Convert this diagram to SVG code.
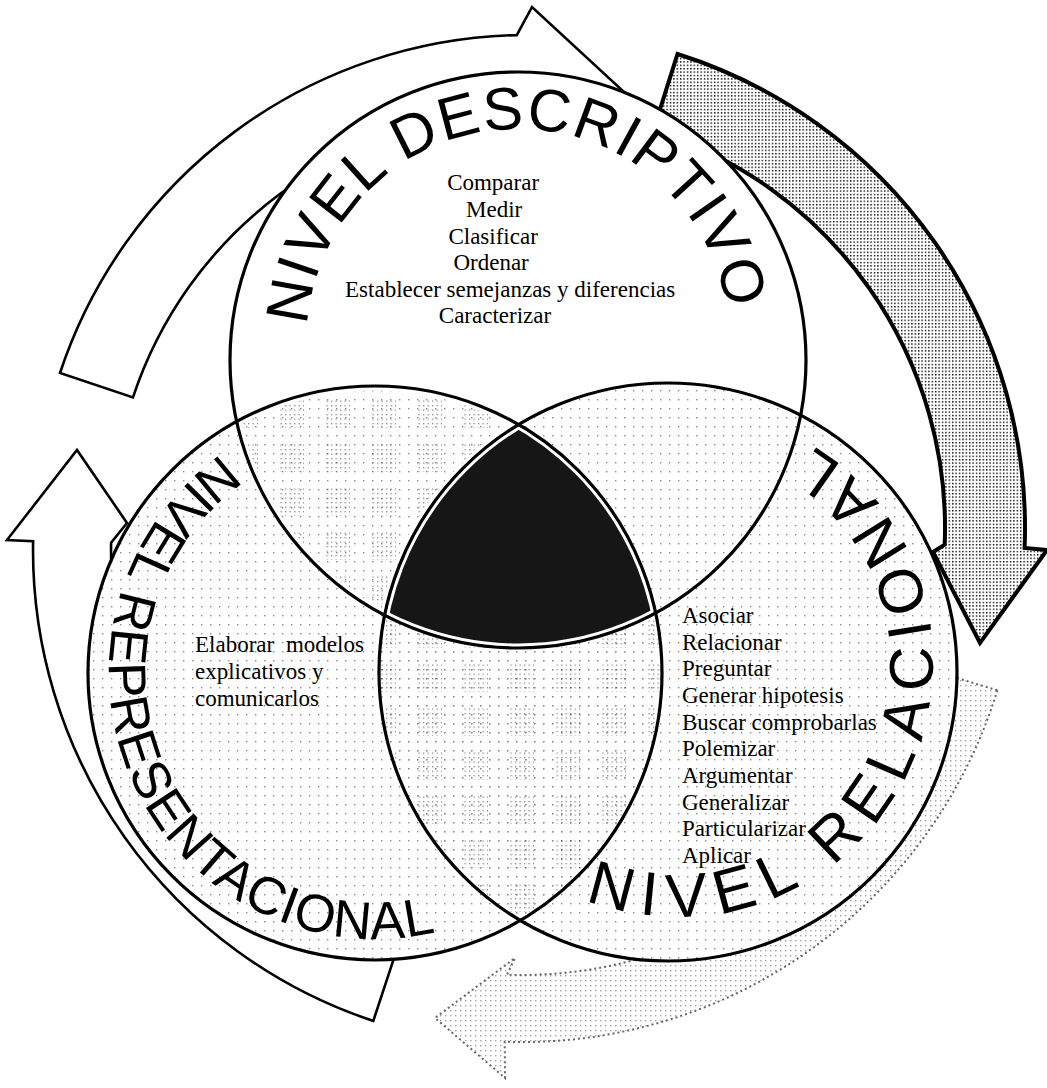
<svg xmlns="http://www.w3.org/2000/svg" width="1047" height="1088" viewBox="0 0 1047 1088">
<style>
.ring{fill:none;stroke:#000;stroke-width:3.2}
.title{font-family:"Liberation Sans",Arial,sans-serif;fill:#000}
.item{font-family:"Liberation Serif","Times New Roman",serif;font-size:23px;fill:#000}
.arrow{fill:#fff;stroke:#000;stroke-width:2.6;stroke-linejoin:miter}
.bg{fill:#fff}
</style>
<defs>
<pattern id="pDots" width="9" height="9" patternUnits="userSpaceOnUse"><rect x="3" y="3" width="1.4" height="1.4" fill="#000"/></pattern>
<pattern id="pDense" width="4.5" height="4.5" patternUnits="userSpaceOnUse"><rect width="1.3" height="1.3" fill="#000"/></pattern>
<pattern id="pBlock" width="46" height="44" patternUnits="userSpaceOnUse"><rect x="2" y="2" width="26" height="30" fill="url(#pDense)"/></pattern>
<pattern id="pHalf" width="3.4" height="3.4" patternUnits="userSpaceOnUse"><rect width="1.4" height="1.4" fill="#000"/></pattern>
<pattern id="pSparse" width="5" height="5" patternUnits="userSpaceOnUse"><rect width="1.4" height="1.4" fill="#444"/></pattern>
<clipPath id="cT"><circle cx="518" cy="360" r="288"/></clipPath>
<clipPath id="cL"><circle cx="375" cy="673" r="287"/></clipPath>
<clipPath id="cR"><circle cx="668" cy="672" r="289"/></clipPath>
<path id="pathT" d="M 307.1 347.4 A 211 211 0 0 1 728.9 332.6"/>
<path id="pathR" d="M 467.6 806.1 A 255 255 0 1 0 658.4 407.7"/>
<path id="pathL" d="M 402.8 406.3 A 267 267 0 1 0 592.7 828"/>
</defs>
<rect width="1047" height="1088" fill="#fff"/>

<g id="connectors">
<path id="arrow-top" class="arrow" d="M 60 373 A 493 493 0 0 1 516.8 35.1 L 532 7 L 623 91 L 519 138 L 518.6 112.1 A 416 416 0 0 0 133 397.4 Z"/>
<path id="arrow-right" d="M 677.5 54 A 497 497 0 0 1 1024.6 547.9 L 1047 550 L 980 643 L 933 552 L 944.7 544.7 A 417 417 0 0 0 653.4 130.3 Z" fill="url(#pHalf)" stroke="#000" stroke-width="4" stroke-linejoin="miter"/>
<path id="arrow-bottom" d="M 997.3 690.3 A 497 497 0 0 1 504.7 1041.7 L 505 1078 L 435 1018 L 515 958 L 507 974.7 A 430 430 0 0 0 933.2 670.7 Z" fill="url(#pSparse)" fill-opacity="0.5" stroke="#666" stroke-width="2" stroke-dasharray="2 3"/>
<path id="arrow-left" class="arrow" d="M 373.3 1020.9 A 496 496 0 0 1 33.1 541.3 L 7 540 L 77 450 L 127 523 L 111.1 542.7 A 418 418 0 0 0 397.7 946.9 Z"/>
</g>

<g id="fills">
<circle class="bg" cx="518" cy="360" r="288"/>
<circle class="bg" cx="375" cy="673" r="287"/>
<circle class="bg" cx="668" cy="672" r="289"/>
<g opacity="0.45">
<rect width="1047" height="1088" fill="url(#pDots)" clip-path="url(#cL)"/>
<rect width="1047" height="1088" fill="url(#pDots)" clip-path="url(#cR)"/>
</g>
<g opacity="0.45">
<g clip-path="url(#cL)"><rect width="1047" height="1088" fill="url(#pBlock)" clip-path="url(#cR)"/></g>
<g clip-path="url(#cL)"><rect width="1047" height="1088" fill="url(#pBlock)" clip-path="url(#cT)"/></g>
</g>
</g>

<g id="node-interseccion">
<g clip-path="url(#cT)"><g clip-path="url(#cL)">
<circle cx="668" cy="672" r="289" fill="#161616"/>
<circle cx="518" cy="360" r="288" fill="none" stroke="#fff" stroke-width="9"/>
<circle cx="375" cy="673" r="287" fill="none" stroke="#fff" stroke-width="9"/>
<circle cx="668" cy="672" r="289" fill="none" stroke="#fff" stroke-width="9"/>
</g></g>
</g>

<g id="node-descriptivo">
<circle class="ring" cx="518" cy="360" r="288"/>
<text class="title" font-size="60" letter-spacing="1.4"><textPath href="#pathT" startOffset="50%" text-anchor="middle">NIVEL DESCRIPTIVO</textPath></text>
<text class="item" text-anchor="middle">
<tspan x="496" y="190">Comparar</tspan>
<tspan x="497" y="217">Medir</tspan>
<tspan x="496" y="243.5">Clasificar</tspan>
<tspan x="494" y="270">Ordenar</tspan>
<tspan x="513" y="296.5">Establecer semejanzas y diferencias</tspan>
<tspan x="495" y="323">Caracterizar</tspan>
</text>
</g>

<g id="node-representacional">
<circle class="ring" cx="375" cy="673" r="287"/>
<text class="title" font-size="53" letter-spacing="0.7"><textPath href="#pathL" startOffset="50%" text-anchor="middle">NIVEL REPRESENTACIONAL</textPath></text>
<text class="item">
<tspan x="195" y="652" word-spacing="6">Elaborar modelos</tspan>
<tspan x="195" y="679">explicativos y</tspan>
<tspan x="195" y="706">comunicarlos</tspan>
</text>
</g>

<g id="node-relacional">
<circle class="ring" cx="668" cy="672" r="289"/>
<text class="title" font-size="62" letter-spacing="11"><textPath href="#pathR" startOffset="50%" text-anchor="middle">NIVEL RELACIONAL</textPath></text>
<text class="item">
<tspan x="682" y="623">Asociar</tspan>
<tspan x="682" y="649.7">Relacionar</tspan>
<tspan x="682" y="676.3">Preguntar</tspan>
<tspan x="682" y="703">Generar hipotesis</tspan>
<tspan x="682" y="729.7">Buscar comprobarlas</tspan>
<tspan x="682" y="756.3">Polemizar</tspan>
<tspan x="682" y="783">Argumentar</tspan>
<tspan x="682" y="809.7">Generalizar</tspan>
<tspan x="682" y="836.3">Particularizar</tspan>
<tspan x="682" y="863">Aplicar</tspan>
</text>
</g>
</svg>
